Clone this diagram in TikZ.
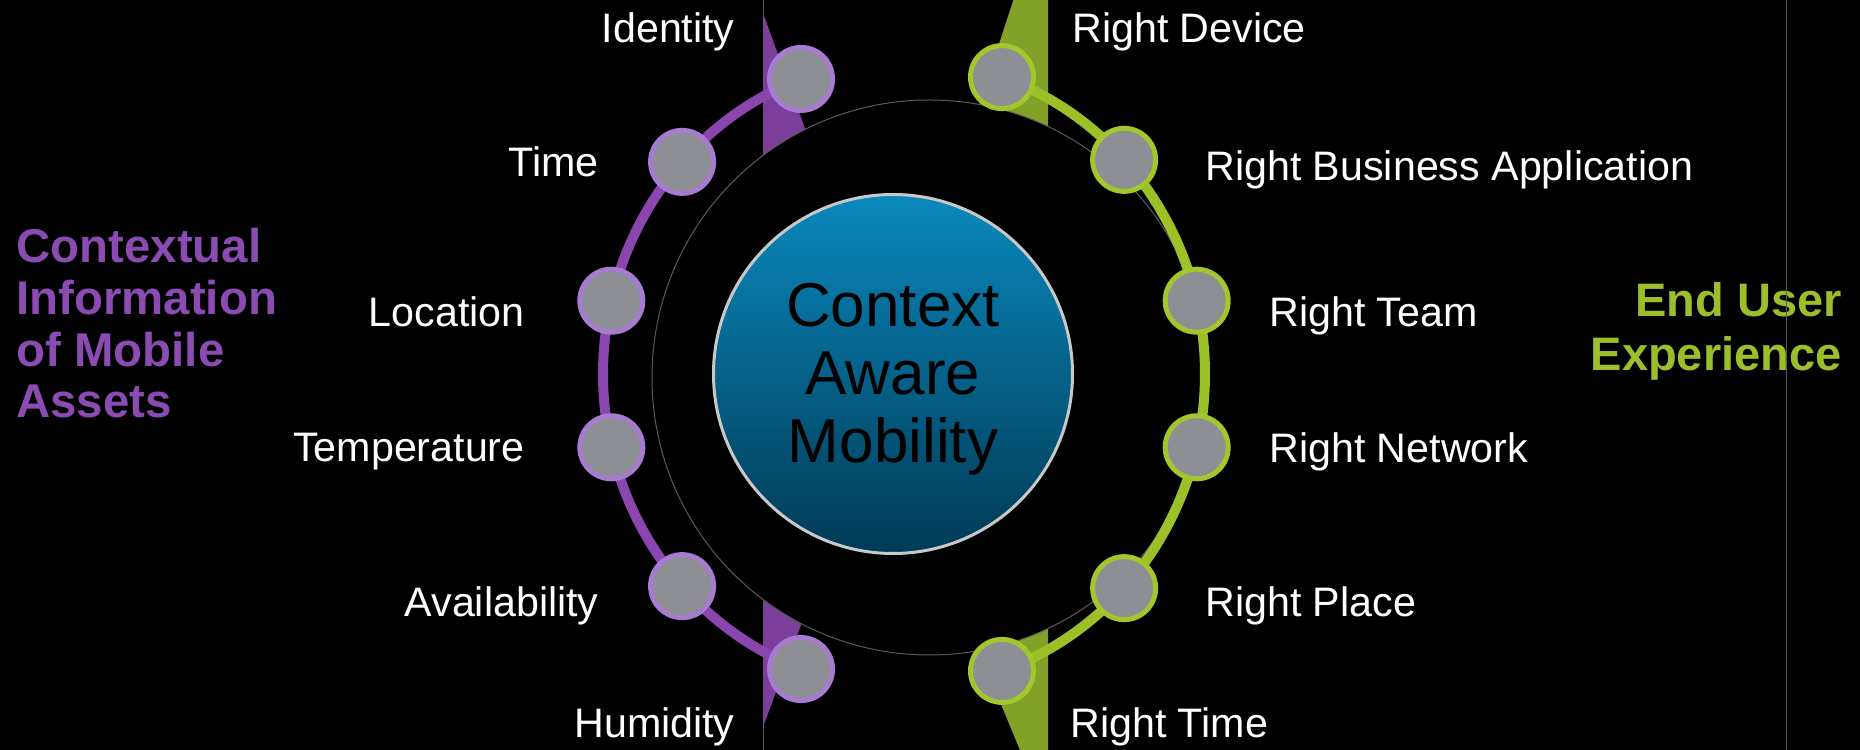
\documentclass[tikz,border=0pt]{standalone}
\usepackage{fontspec}
\setmainfont{Liberation Sans}
\usetikzlibrary{calc}
\definecolor{parc}{HTML}{8A46AE}
\definecolor{pring}{HTML}{A77BCF}
\definecolor{pwedge}{HTML}{7B3F9B}
\definecolor{ptitle}{HTML}{8B4BB3}
\definecolor{garc}{HTML}{9CC027}
\definecolor{gring}{HTML}{A2C62B}
\definecolor{gwedge}{HTML}{83A028}
\definecolor{gtitle}{HTML}{9BBF2A}
\definecolor{nodegray}{HTML}{8E8F94}
\definecolor{thingray}{HTML}{5A5A5A}
\definecolor{bluetop}{HTML}{0A88BC}
\definecolor{bluebot}{HTML}{003A55}
\definecolor{blueedge}{HTML}{C8C8C8}
\begin{document}
\begin{tikzpicture}[x=0.5pt,y=0.5pt,
  thinline/.style={draw=thingray,line width=0.5pt},
  pline/.style={draw=parc,line width=5pt},
  gline/.style={draw=garc,line width=5pt},
  dot/.style={circle,fill=nodegray,line width=2.5pt,minimum size=31.5pt,inner sep=0pt},
  pdot/.style={dot,draw=pring},
  gdot/.style={dot,draw=gring},
  lab/.style={text=white,inner sep=0pt,font=\fontsize{20.6}{24}\selectfont},
  llab/.style={lab,anchor=base east},
  rlab/.style={lab,anchor=base west}]
\fill[black] (0,0) rectangle (1860,750);
\useasboundingbox (0,0) rectangle (1860,750);
% thin vertical line behind the ring
\coordinate (vt) at (763,750);
\coordinate (vb) at (763,0);
\draw[thinline] (vt) -- (vb);
% wedges
\fill[pwedge] (763,737) -- (831,550) -- (763,550) -- cycle;
\fill[pwedge] (763,23) -- (829,200) -- (763,200) -- cycle;
\fill[gwedge] (1015,755) -- (948,550) -- (1048,550) -- (1048,755) -- cycle;
\fill[gwedge] (1022,-5) -- (937,200) -- (1048,200) -- (1048,-5) -- cycle;
% black disc with thin outline
\filldraw[fill=black,thinline] (929.5,372.5) circle[radius=138.75pt];
% centre
\node[circle,minimum size=179.5pt,inner sep=0pt,top color=bluetop,bottom color=bluebot,draw=blueedge,line width=1.5pt] (cam) at (893,376) {};
\node[align=center,inner sep=0pt,text=black,font=\fontsize{31}{34}\selectfont] (camtext) at (893,371) {Context\\Aware\\Mobility};
% ellipse positions
\coordinate (E) at (904,376);
\coordinate (p1) at ($(E)+(110:150.5pt and 157pt)$);
\coordinate (p2) at ($(E)+(137.5:150.5pt and 157pt)$);
\coordinate (p3) at ($(E)+(166.5:150.5pt and 157pt)$);
\coordinate (p4) at ($(E)+(193.5:150.5pt and 157pt)$);
\coordinate (p5) at ($(E)+(222.5:150.5pt and 157pt)$);
\coordinate (p6) at ($(E)+(250:150.5pt and 157pt)$);
\coordinate (g1) at ($(E)+(71:150.5pt and 157pt)$);
\coordinate (g2) at ($(E)+(43:150.5pt and 157pt)$);
\coordinate (g3) at ($(E)+(13.5:150.5pt and 157pt)$);
\coordinate (g4) at ($(E)+(-13.5:150.5pt and 157pt)$);
\coordinate (g5) at ($(E)+(-43:150.5pt and 157pt)$);
\coordinate (g6) at ($(E)+(-71:150.5pt and 157pt)$);
% arcs
\draw[pline] (p1) arc[start angle=110,end angle=137.5,x radius=150.5pt,y radius=157pt];
\draw[pline] (p2) arc[start angle=137.5,end angle=166.5,x radius=150.5pt,y radius=157pt];
\draw[pline] (p3) arc[start angle=166.5,end angle=193.5,x radius=150.5pt,y radius=157pt];
\draw[pline] (p4) arc[start angle=193.5,end angle=222.5,x radius=150.5pt,y radius=157pt];
\draw[pline] (p5) arc[start angle=222.5,end angle=250,x radius=150.5pt,y radius=157pt];
\draw[gline] (g1) arc[start angle=71,end angle=43,x radius=150.5pt,y radius=157pt];
\draw[gline] (g2) arc[start angle=43,end angle=13.5,x radius=150.5pt,y radius=157pt];
\draw[gline] (g3) arc[start angle=13.5,end angle=-13.5,x radius=150.5pt,y radius=157pt];
\draw[gline] (g4) arc[start angle=-13.5,end angle=-43,x radius=150.5pt,y radius=157pt];
\draw[gline] (g5) arc[start angle=-43,end angle=-71,x radius=150.5pt,y radius=157pt];
% nodes
\node[pdot] (n1) at (p1) {};
\node[pdot] (n2) at (p2) {};
\node[pdot] (n3) at (p3) {};
\node[pdot] (n4) at (p4) {};
\node[pdot] (n5) at (p5) {};
\node[pdot] (n6) at (p6) {};
\node[gdot] (m1) at (g1) {};
\node[gdot] (m2) at (g2) {};
\node[gdot] (m3) at (g3) {};
\node[gdot] (m4) at (g4) {};
\node[gdot] (m5) at (g5) {};
\node[gdot] (m6) at (g6) {};
% labels
\node[llab] (t1) at (735,707) {Identity};
\node[llab] (t2) at (599,573) {Time};
\node[llab] (t3) at (525,423) {Location};
\node[llab] (t4) at (525,288) {Temperature};
\node[llab] (t5) at (599,133) {Availability};
\node[llab] (t6) at (735,12) {Humidity};
\node[rlab] (r1) at (1072,707) {Right Device};
\node[rlab] (r2) at (1205,569) {Right Business Application};
\node[rlab] (r3) at (1269,423) {Right Team};
\node[rlab] (r4) at (1269,287) {Right Network};
\node[rlab] (r5) at (1205,133) {Right Place};
\node[rlab] (r6) at (1070,12) {Right Time};
% titles
\node[anchor=north west,align=left,inner sep=0pt,text=ptitle,font=\bfseries\fontsize{23.7}{25.85}\selectfont] (ltitle) at (16,522) {Contextual\\Information\\of Mobile\\Assets};
\node[anchor=north east,align=right,inner sep=0pt,text=gtitle,font=\bfseries\fontsize{23.5}{27}\selectfont] (rtitle) at (1842,468) {End User\\Experience};
% right vertical line
\coordinate (rt) at (1786,750);
\coordinate (rb) at (1786,0);
\draw[thinline] (rt) -- (rb);
\end{tikzpicture}
\end{document}
